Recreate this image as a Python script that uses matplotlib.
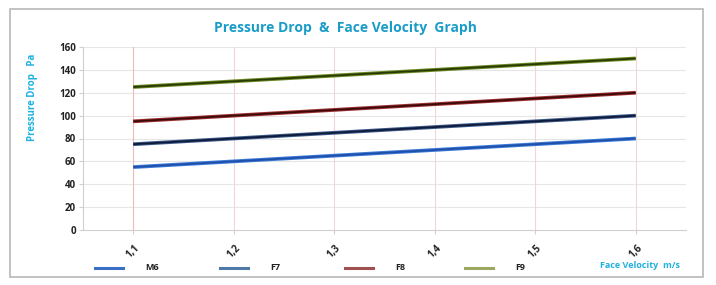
import matplotlib
matplotlib.use("Agg")
import matplotlib.pyplot as plt
import matplotlib.patheffects as pe
from matplotlib.patches import Rectangle

categories = ["1,1", "1,2", "1,3", "1,4", "1,5", "1,6"]
m6 = [55, 60, 65, 70, 75, 80]
f7 = [75, 80, 85, 90, 95, 100]
f8 = [95, 100, 105, 110, 115, 120]
f9 = [125, 130, 135, 140, 145, 150]
series_names = ["M6", "F7", "F8", "F9"]
yticks = [0, 20, 40, 60, 80, 100, 120, 140, 160]

plt.rcParams['font.family'] = ['Open Sans', 'DejaVu Sans']

W, H = 716, 285
fig = plt.figure(figsize=(W / 100, H / 100), dpi=100)
fig.patch.set_facecolor("white")

# outer chart frame
fig.patches.append(Rectangle((10 / W, 8 / H), 693 / W, 268 / H, transform=fig.transFigure,
                             fill=False, edgecolor="#b8b8b8", linewidth=1.2))

ax = fig.add_axes([83 / W, 1 - 230 / H, (686 - 83) / W, (230 - 47) / H])
x = list(range(len(categories)))

edge_cols = ["#3a7ad8", "#3b5a8a", "#a03030", "#6a8a20"]
core_cols = ["#1f4fa8", "#0f1a3a", "#3a0a0a", "#2a3a05"]
legend_cols = ["#3a6fc8", "#4f7aa8", "#a05050", "#9aa860"]
data = [m6, f7, f8, f9]

for d, ec, cc in zip(data, edge_cols, core_cols):
    ax.plot(x, d, color=cc, linewidth=1.3, solid_capstyle="butt", zorder=3,
            path_effects=[pe.Stroke(linewidth=2.7, foreground=ec), pe.Normal()])

ax.set_xlim(-0.5, len(categories) - 0.5)
ax.set_ylim(0, 160)
ax.set_yticks(yticks)
ax.set_xticks(x)
ax.set_xticklabels(categories, rotation=45, fontsize=7, fontweight="bold", color="#222222",
                   ha="center", va="top")
ax.set_yticklabels([str(v) for v in yticks], fontsize=7, fontweight="bold", color="#222222")

for v in yticks[1:]:
    ax.axhline(v, color="#e6e6e6", linewidth=0.8, zorder=1)
for i in x:
    ax.axvline(i, color="#f2d6d6" if i else "#f0b8b8", linewidth=0.8, zorder=1)

for s in ["top", "right"]:
    ax.spines[s].set_visible(False)
ax.spines["left"].set_color("#d0d0d0")
ax.spines["bottom"].set_color("#d0d0d0")
ax.tick_params(axis="both", length=3, color="#d0d0d0", pad=2)
ax.tick_params(axis="x", pad=6)

fig.text(345 / W, 1 - 28 / H, "Pressure Drop  &  Face Velocity  Graph", ha="center", va="center",
         fontsize=10, fontweight="bold", color="#1a9cc8")
fig.text(33 / W, 1 - 97 / H, "Pressure Drop   Pa", ha="center", va="center", rotation=90,
         fontsize=7, fontweight="bold", color="#20b0e0")
fig.text(640 / W, 1 - 265 / H, "Face Velocity  m/s", ha="center", va="center",
         fontsize=6.5, fontweight="bold", color="#20b0e0")

# legend
leg_x = [95, 220, 345, 465]
for lx, name, lc in zip(leg_x, series_names, legend_cols):
    fig.lines.append(plt.Line2D([lx / W, (lx + 28) / W], [1 - 268 / H, 1 - 268 / H],
                                transform=fig.transFigure, color=lc, linewidth=2.2))
    fig.text((lx + 50) / W, 1 - 268 / H, name, ha="left", va="center",
             fontsize=6.5, fontweight="bold", color="#222222")

fig.savefig("out.png", dpi=100, facecolor="white")
